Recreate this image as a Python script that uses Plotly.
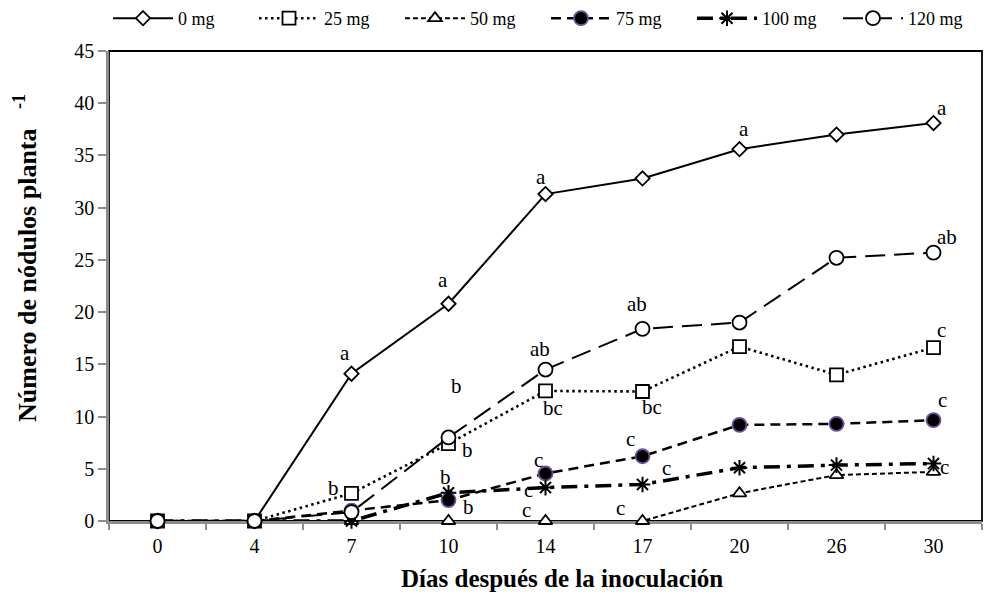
import plotly.graph_objects as go

days = ["0", "4", "7", "10", "14", "17", "20", "26", "30"]
series_names = ["0 mg", "25 mg", "50 mg", "75 mg", "100 mg", "120 mg"]
v0 = [0, 0, 14.1, 20.8, 31.3, 32.8, 35.6, 37.0, 38.1]
v25 = [0, 0, 2.65, 7.4, 12.45, 12.4, 16.7, 14.0, 16.6]
v50 = [0, 0, 0, 0, 0, 0, 2.65, 4.4, 4.7]
v75 = [0, 0, 1.0, 2.0, 4.55, 6.2, 9.2, 9.3, 9.65]
v100 = [0, 0, 0, 2.7, 3.2, 3.5, 5.1, 5.35, 5.5]
v120 = [0, 0, 0.85, 8.0, 14.5, 18.4, 19.0, 25.2, 25.7]

x_title = "Días después de la inoculación"
y_title = "Número de nódulos planta"

# letters: (series index, day, letter, xshift, yshift)
letters = [
    (0, "7", "a", -7, 21), (0, "10", "a", -6, 24), (0, "14", "a", -5, 17),
    (0, "20", "a", 4, 20), (0, "30", "a", 8, 15),
    (5, "30", "ab", 13, 16), (5, "17", "ab", -6, 25), (5, "14", "ab", -6, 21),
    (5, "10", "b", 8, 51),
    (1, "7", "b", -18, 5), (1, "10", "b", 19, -6),
    (4, "10", "b", -3, 16), (3, "10", "b", 20, -7),
    (3, "14", "c", -7, 13), (4, "14", "c", -17, -2), (2, "14", "c", -19, 11),
    (3, "17", "c", -12, 17), (4, "17", "c", 24, 16), (2, "17", "c", -22, 13),
    (1, "30", "c", 8, 18), (3, "30", "c", 9, 20), (4, "30", "c", 11, -3),
    (1, "14", "bc", 7, -17), (1, "17", "bc", 9, -16),
]

values = [v0, v25, v50, v75, v100, v120]

styles = [
    dict(line=dict(color="black", width=2, dash="solid"),
         marker=dict(symbol="diamond", size=11, color="white", line=dict(color="black", width=1.8))),
    dict(line=dict(color="black", width=2.6, dash="2.5px,3.5px"),
         marker=dict(symbol="square", size=13, color="white", line=dict(color="black", width=1.8))),
    dict(line=dict(color="black", width=2, dash="5px,3px"),
         marker=dict(symbol="triangle-up", size=12, color="white", line=dict(color="black", width=1.8))),
    dict(line=dict(color="black", width=2.5, dash="10px,6px"),
         marker=dict(symbol="circle", size=14, color="black", line=dict(color="#6a4f9c", width=1.8))),
    dict(line=dict(color="black", width=3.5, dash="16px,7px,4px,7px"),
         marker=dict(symbol="asterisk-open", size=13, color="black", line=dict(color="black", width=2))),
    dict(line=dict(color="black", width=2, dash="20px,9px"),
         marker=dict(symbol="circle", size=14, color="white", line=dict(color="black", width=1.8))),
]

fig = go.Figure()
for name, vals, st in zip(series_names, values, styles):
    fig.add_trace(go.Scatter(x=days, y=vals, name=name, mode="lines+markers",
                             line=st["line"], marker=st["marker"], cliponaxis=False))

for si, d, txt, dx, dy in letters:
    idx = days.index(d)
    fig.add_annotation(x=idx, y=values[si][idx], text=txt, showarrow=False,
                       xshift=dx, yshift=dy,
                       font=dict(family="Liberation Serif", size=21, color="black"))

# axis titles
fig.add_annotation(xref="paper", yref="paper", x=0.5, y=0, xshift=16, yshift=-57,
                   text="<b>" + x_title + "</b>", showarrow=False,
                   xanchor="center", yanchor="middle",
                   font=dict(family="Liberation Serif", size=25, color="black"))
fig.add_annotation(xref="paper", yref="paper", x=0, y=(521 - 258) / 470, xshift=-84,
                   text="<b>" + y_title + "&nbsp;&nbsp;&nbsp;<sup>-1</sup></b>", showarrow=False,
                   textangle=-90, xanchor="center", yanchor="middle",
                   font=dict(family="Liberation Serif", size=26, color="black"))

fig.add_shape(type="rect", xref="paper", yref="paper", x0=0, x1=1, y0=0, y1=1,
              line=dict(color="black", width=1.8), layer="below")

fig.update_layout(
    width=984, height=598,
    margin=dict(l=109, r=2, t=51, b=77),
    paper_bgcolor="white", plot_bgcolor="white",
    font=dict(family="Liberation Serif", size=19, color="black"),
    legend=dict(orientation="h", x=0.0, xanchor="left", y=1.0, yanchor="top",
                yref="container",
                font=dict(family="Liberation Serif", size=18), itemwidth=60,
                entrywidth=71,
                bgcolor="rgba(0,0,0,0)", traceorder="normal"),
    xaxis=dict(type="category", range=[-0.5, 8.5], showline=True, linecolor="#8c8c8c", linewidth=2.5,
               ticks="outside", tickson="boundaries", ticklen=6, tickwidth=1.5, tickcolor="#8c8c8c",
               showgrid=False, zeroline=False, layer="below traces", tickangle=0,
               ticklabelstandoff=5,
               tickfont=dict(size=20)),
    yaxis=dict(range=[0, 45], dtick=5, showline=True, linecolor="#8c8c8c", linewidth=2.5,
               ticks="outside", ticklen=8, tickwidth=1.5, tickcolor="#8c8c8c",
               showgrid=False, zeroline=False, layer="below traces",
               tickfont=dict(size=20)),
    showlegend=True,
)

fig.write_html("out.html")
